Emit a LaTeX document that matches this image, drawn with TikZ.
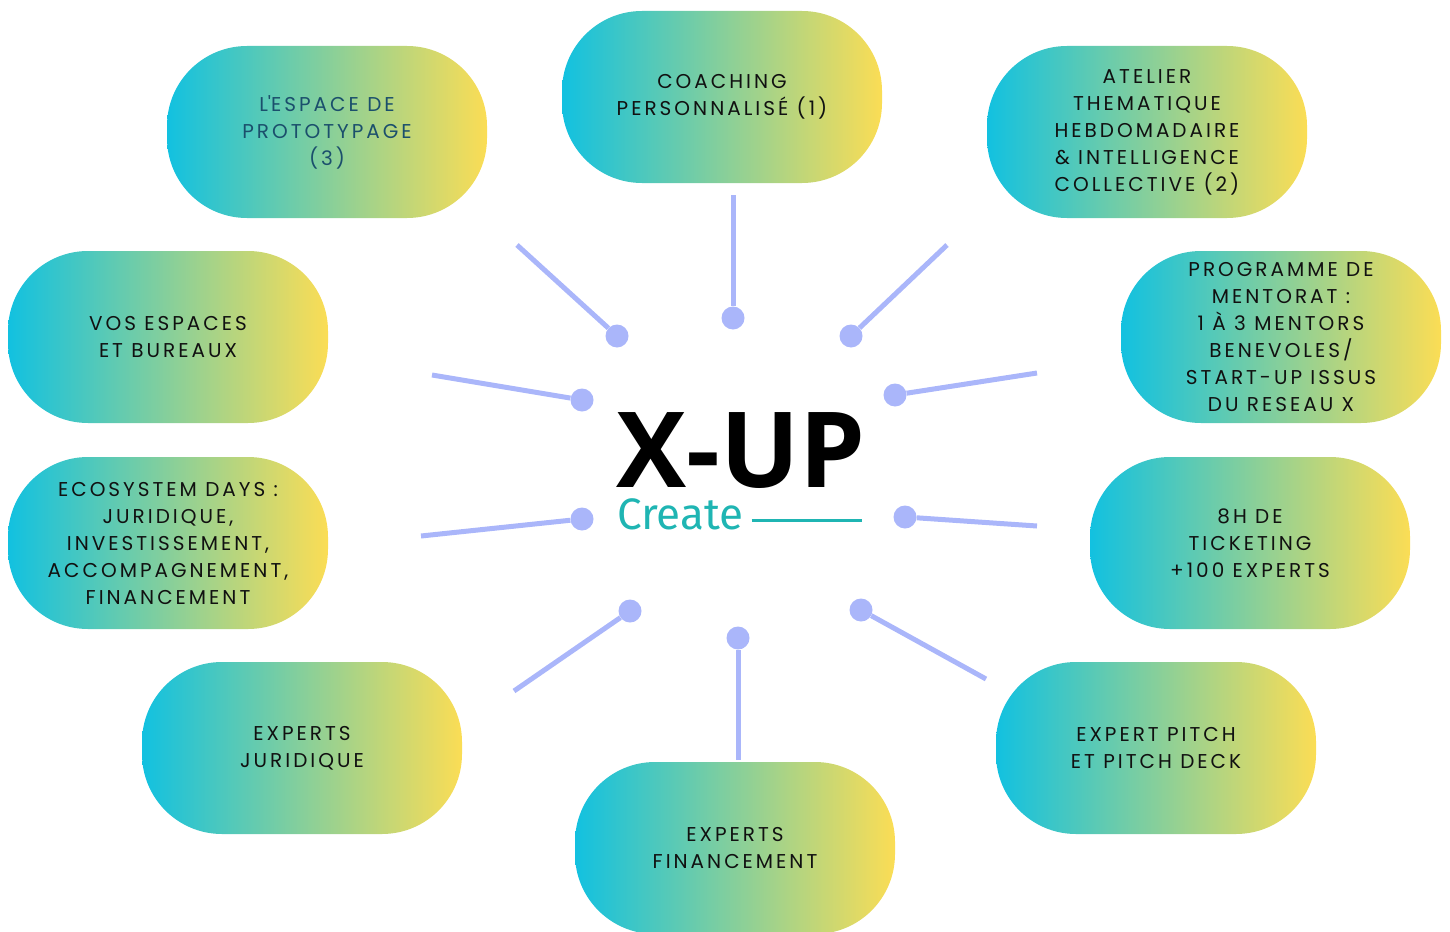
\documentclass[tikz,border=0pt]{standalone}
\usepackage{fontspec}
\setmainfont{Poppins}
\newfontfamily\logofont{Open Sans}
\newfontfamily\createfont{Fira Sans}
\definecolor{blobcyan}{HTML}{12C1E0}
\definecolor{blobyellow}{HTML}{FBDD55}
\definecolor{spokeblue}{HTML}{AAB6FA}
\definecolor{createteal}{HTML}{1FB5B3}
\definecolor{darkteal}{HTML}{1B4F6C}
\definecolor{inktext}{HTML}{111111}
\tikzset{
  blob/.style={rounded corners=80pt, minimum width=320pt, minimum height=172pt,
    left color=blobcyan, right color=blobyellow, align=center, text=inktext,
    font=\fontsize{20}{27}\selectfont\addfontfeature{LetterSpace=15}},
  hub/.style={circle, fill=spokeblue, minimum size=23pt, inner sep=0pt},
  spokeline/.style={draw=spokeblue, line width=5pt},
}
\begin{document}
\begin{tikzpicture}[x=1pt, y=-1pt]
\useasboundingbox (0,0) rectangle (1450,931);

% the ten offers
\node[blob, text=darkteal] (espace) at (327,132) {L\textquotesingle ESPACE DE\\PROTOTYPAGE\\(3)};
\node[blob] (coaching) at (722,97) {COACHING\\PERSONNALISÉ (1)};
\node[blob] (atelier) at (1147,132) {ATELIER\\THEMATIQUE\\HEBDOMADAIRE\\\& INTELLIGENCE\\COLLECTIVE (2)};
\node[blob] (bureaux) at (168,337) {VOS ESPACES\\ET BUREAUX};
\node[blob] (mentorat) at (1281,337) {PROGRAMME DE\\MENTORAT :\\1 À 3 MENTORS\\BENEVOLES/\\START-UP ISSUS\\DU RESEAU X};
\node[blob] (ecosystem) at (168,543) {ECOSYSTEM DAYS :\\JURIDIQUE,\\INVESTISSEMENT,\\ACCOMPAGNEMENT,\\FINANCEMENT};
\node[blob] (ticketing) at (1250,543) {8H DE\\TICKETING\\+100 EXPERTS};
\node[blob] (juridique) at (302,748) {EXPERTS\\JURIDIQUE};
\node[blob] (pitch) at (1156,748) {EXPERT PITCH\\ET PITCH DECK};
\node[blob] (financement) at (735,848) {EXPERTS\\FINANCEMENT};

% logo
\node[font=\logofont\bfseries\fontsize{105}{105}\selectfont, inner sep=0pt, text depth=0pt, anchor=base] (xup) at (741,487) {X-UP};
\node[font=\createfont\fontsize{44}{44}\selectfont, text=createteal, inner sep=0pt, text depth=0pt, anchor=base west] (create) at (617,529) {Create};
\coordinate (ruleend) at (862,520);
\draw[createteal, line width=3pt] ([xshift=8pt,yshift=9pt]create.base east) -- (ruleend);

% spokes
\coordinate (o1) at (517,245);
\coordinate (o2) at (733,195);
\coordinate (o3) at (947,245);
\coordinate (o4) at (432,375);
\coordinate (o5) at (1037,373);
\coordinate (o6) at (421,536);
\coordinate (o7) at (1037,526);
\coordinate (o8) at (514,691);
\coordinate (o9) at (738,760);
\coordinate (o10) at (986,679);
\node[hub] (h1) at (617,336) {};
\node[hub] (h2) at (733,318) {};
\node[hub] (h3) at (851,336) {};
\node[hub] (h4) at (582,400) {};
\node[hub] (h5) at (895,395) {};
\node[hub] (h6) at (582,519) {};
\node[hub] (h7) at (905,517) {};
\node[hub] (h8) at (630,611) {};
\node[hub] (h9) at (738,638) {};
\node[hub] (h10) at (861,610) {};
\draw[spokeline] (o1) -- (h1);
\draw[spokeline] (o2) -- (h2);
\draw[spokeline] (o3) -- (h3);
\draw[spokeline] (o4) -- (h4);
\draw[spokeline] (o5) -- (h5);
\draw[spokeline] (o6) -- (h6);
\draw[spokeline] (o7) -- (h7);
\draw[spokeline] (o8) -- (h8);
\draw[spokeline] (o9) -- (h9);
\draw[spokeline] (o10) -- (h10);
\end{tikzpicture}
\end{document}
